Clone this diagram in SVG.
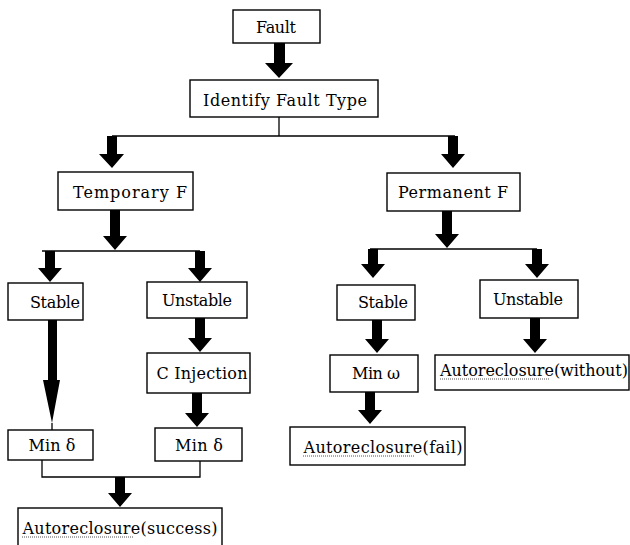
<svg xmlns="http://www.w3.org/2000/svg" width="630" height="545" viewBox="0 0 630 545">
<style>
.box{fill:#fff;stroke:#000;stroke-width:1.4}
.t{font-family:"DejaVu Serif","Liberation Serif",serif;font-size:16px;fill:#000;text-anchor:middle}
.ln{fill:none;stroke:#000;stroke-width:1.3}
.ar{fill:#000;stroke:none}
.dot{stroke:#555;stroke-width:1;stroke-dasharray:1 1}
</style>
<rect width="630" height="545" fill="#fff"/>
<g id="connectors">
<polyline class="ln" points="279,117 279,136"/>
<polyline class="ln" points="112,136 455,136"/>
<polyline class="ln" points="42,251 200,251"/>
<polyline class="ln" points="370,249 537,249"/>
<polyline class="ln" points="42,460 42,477 200,477 200,461"/>
<polygon class="ar" points="274,43 285,43 285,63 293,63 279,78 265,63 274,63"/>
<polygon class="ar" points="107,136 117,136 117,154 124,154 112,168 99,154 107,154"/>
<polygon class="ar" points="448,136 458,136 458,154 465,154 453,168 441,154 448,154"/>
<polygon class="ar" points="110,210 120,210 120,236 127,236 115,250 103,236 110,236"/>
<polygon class="ar" points="442,211 452,211 452,234 459,234 447,248 435,234 442,234"/>
<polygon class="ar" points="45,251 55,251 55,268 62,268 50,282 38,268 45,268"/>
<polygon class="ar" points="195,251 205,251 205,268 212,268 200,282 188,268 195,268"/>
<polygon class="ar" points="368,249 378,249 378,264 385,264 373,278 361,264 368,264"/>
<polygon class="ar" points="532,249 542,249 542,264 549,264 537,278 525,264 532,264"/>
<polygon class="ar" points="195,318 205,318 205,338 212,338 200,352 188,338 195,338"/>
<polygon class="ar" points="192,393 202,393 202,413 209,413 197,427 185,413 192,413"/>
<polygon class="ar" points="48,320 57,320 57,380 60,380 52,423 43,380 48,380"/>
<line class="ln" x1="52" y1="423" x2="52" y2="430"/>
<polygon class="ar" points="115,477 125,477 125,493 132,493 120,507 108,493 115,493"/>
<polygon class="ar" points="372,320 382,320 382,339 389,339 377,353 365,339 372,339"/>
<polygon class="ar" points="365,392 375,392 375,410 382,410 370,424 358,410 365,410"/>
<polygon class="ar" points="530,318 540,318 540,339 547,339 535,353 523,339 530,339"/>
</g>
<g id="fault"><rect class="box" x="233" y="10" width="87" height="33"/><text class="t" x="276" y="33" textLength="40">Fault</text></g>
<g id="identify"><rect class="box" x="190" y="80" width="188" height="37"/><text class="t" x="285" y="106" textLength="164">Identify Fault Type</text></g>
<g id="temporary"><rect class="box" x="58" y="172" width="135" height="38"/><text class="t" x="130" y="198" textLength="114">Temporary F</text></g>
<g id="permanent"><rect class="box" x="387" y="173" width="133" height="38"/><text class="t" x="453" y="198" textLength="110">Permanent F</text></g>
<g id="stable-t"><rect class="box" x="8" y="283" width="75" height="37"/><text class="t" x="55" y="308" textLength="50">Stable</text></g>
<g id="unstable-t"><rect class="box" x="147" y="282" width="100" height="36"/><text class="t" x="197" y="306" textLength="70">Unstable</text></g>
<g id="c-injection"><rect class="box" x="147" y="353" width="103" height="40"/><text class="t" x="202" y="379" textLength="91">C Injection</text></g>
<g id="min-delta-1"><rect class="box" x="8" y="430" width="85" height="30"/><text class="t" x="52" y="451" textLength="47">Min δ</text></g>
<g id="min-delta-2"><rect class="box" x="155" y="428" width="87" height="33"/><text class="t" x="199" y="451" textLength="48">Min δ</text></g>
<g id="auto-success"><rect class="box" x="18" y="508" width="204" height="45"/><text class="t" x="120" y="534" textLength="195">Autoreclosure(success)</text><line class="dot" x1="22" y1="537" x2="134" y2="537"/></g>
<g id="stable-p"><rect class="box" x="337" y="285" width="78" height="35"/><text class="t" x="383" y="308" textLength="50">Stable</text></g>
<g id="unstable-p"><rect class="box" x="480" y="280" width="98" height="38"/><text class="t" x="528" y="305" textLength="70">Unstable</text></g>
<g id="min-omega"><rect class="box" x="330" y="355" width="88" height="37"/><text class="t" x="376" y="379" textLength="48">Min ω</text></g>
<g id="auto-without"><rect class="box" x="435" y="355" width="194" height="35"/><text class="t" x="534" y="376" textLength="188">Autoreclosure(without)</text><line class="dot" x1="440" y1="379" x2="549" y2="379"/></g>
<g id="auto-fail"><rect class="box" x="290" y="427" width="175" height="38"/><text class="t" x="383" y="453" textLength="159">Autoreclosure(fail)</text><line class="dot" x1="303" y1="456" x2="415" y2="456"/></g>
</svg>
